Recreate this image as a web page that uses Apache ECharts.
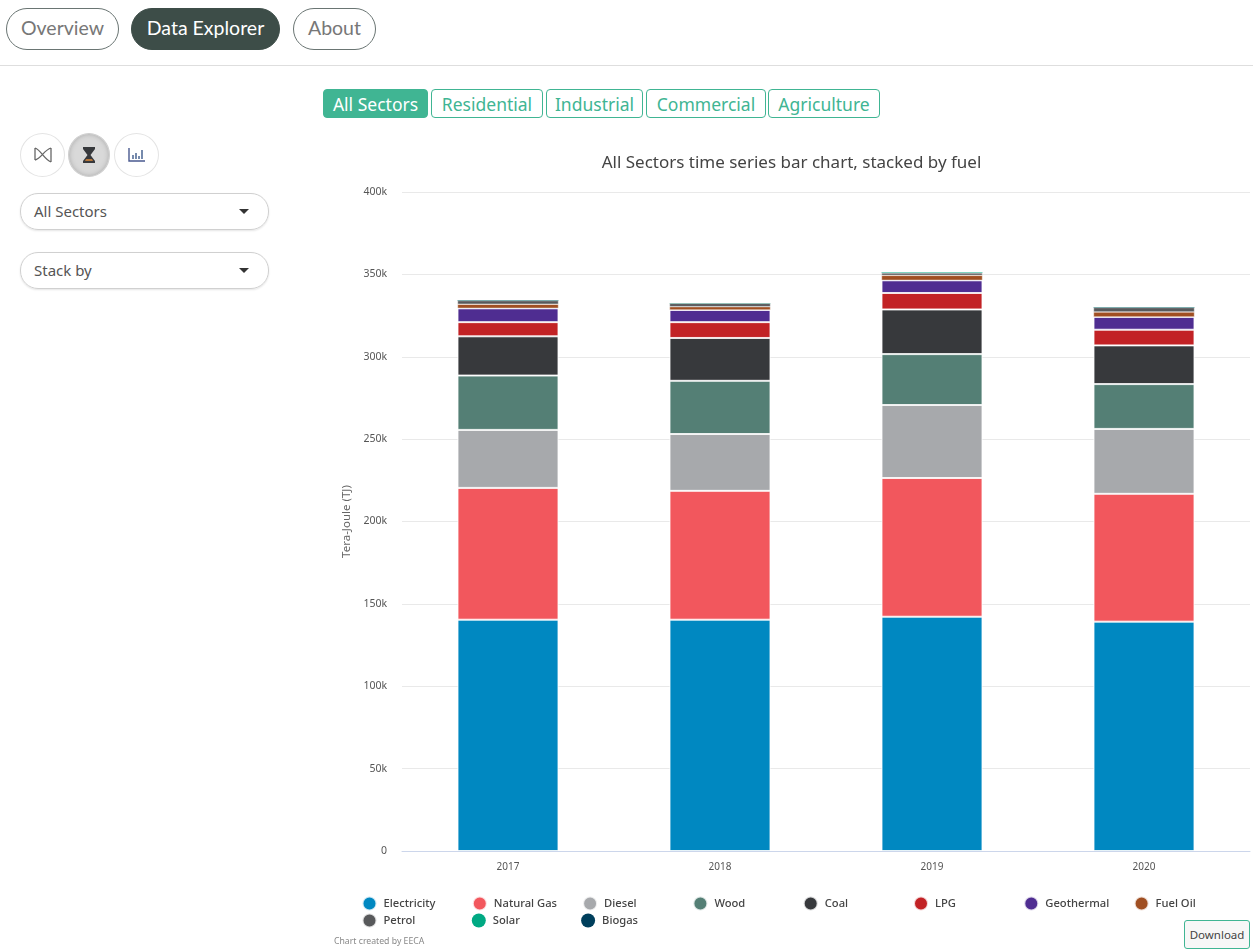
<!DOCTYPE html>
<html><head><meta charset="utf-8">
<script src="https://cdn.jsdelivr.net/npm/echarts@6/dist/echarts.min.js"></script>
<style>
html,body{margin:0;padding:0;background:#fff;width:1253px;height:950px;overflow:hidden;font-family:"Noto Sans",sans-serif;color:#555}
.abs{position:absolute;box-sizing:border-box}
.nav{top:8px;height:42px;border:1.5px solid #6a7573;border-radius:21px;font:19.5px/37px Lato,"Open Sans",sans-serif;text-align:center;color:#777;background:#fff}
.nav.on{background:#3d4d48;color:#fff;border-color:#3d4d48}
.tab{top:89px;height:29px;border:1px solid #40b593;border-radius:4px;font:17.5px/28px "Noto Sans",sans-serif;text-align:center;color:#40b593;background:#fff}
.tab.on{background:#40b593;color:#fff}
.ic{top:133px;width:45px;height:44px;border:1px solid #e4e4e4;border-radius:50%;background:#fff;display:flex;align-items:center;justify-content:center}
.ic.on{background:#d9d9d9;border-color:#cfcfcf;box-shadow:inset 0 0 5px #aaa;width:42px;left:68px}
.sel{left:20px;width:249px;height:37px;border:1px solid #d0d0d0;border-radius:18px;font:15px/34px "Noto Sans",sans-serif;padding-left:13px;color:#555;box-shadow:0 1px 2px #e5e5e5}
.sel:after{content:"";position:absolute;right:19px;top:15px;border:5.500px solid transparent;border-top:5.500px solid #333;border-bottom:0}
#chart{left:320px;top:140px;width:933px;height:810px}
</style></head><body>
<div class="abs nav" style="left:6px;width:113px">Overview</div>
<div class="abs nav on" style="left:131px;width:149px">Data Explorer</div>
<div class="abs nav" style="left:293px;width:83px">About</div>
<div class="abs" style="left:0;top:65px;width:1253px;height:1px;background:#dedede"></div>
<div class="abs tab on" style="left:323px;width:105px">All Sectors</div>
<div class="abs tab" style="left:431px;width:112px">Residential</div>
<div class="abs tab" style="left:546px;width:97px">Industrial</div>
<div class="abs tab" style="left:646px;width:120px">Commercial</div>
<div class="abs tab" style="left:768px;width:112px">Agriculture</div>
<div class="abs ic" style="left:20px"><svg width="20" height="18" viewBox="0 0 20 18" fill="none" stroke="#666" stroke-width="1.3"><path d="M2 2v12M18 2v14M2 2c6 2 9 11 16 14M2 14c6-1 9-10 16-12"/></svg></div>
<div class="abs ic on"><svg width="14" height="18" viewBox="0 0 14 18"><path d="M1 1h12v2l-4.500 6 4.500 6v2H1v-2l4.500-6L1 3z" fill="#37393c"/><path d="M4 13h6l1 2H3z" fill="#b5763a"/></svg></div>
<div class="abs ic" style="left:114px"><svg width="18" height="16" viewBox="0 0 18 16" fill="none" stroke-width="1.400"><path d="M1 1v13h16" stroke="#4a5a90"/><path d="M5 12V8M8 12V6M11 12V9M14 12V3" stroke="#3d5a8a"/></svg></div>
<div class="abs sel" style="top:193px">All Sectors</div>
<div class="abs sel" style="top:252px">Stack by</div>
<div class="abs" id="chart"></div>
<div class="abs" style="left:1184px;top:920px;width:66px;height:29px;border:1px solid #40b593;border-radius:3px;font:11.500px/27px 'Noto Sans',sans-serif;text-align:center;color:#444;background:#f7f7f7">Download</div>
<script>
const years = ['2017', '2018', '2019', '2020'];
const fuelNames = ['Electricity', 'Natural Gas', 'Diesel', 'Wood', 'Coal', 'LPG', 'Geothermal', 'Fuel Oil', 'Petrol', 'Solar', 'Biogas'];
const fuelColors = ['#0088c1', '#f2575d', '#a7a9ac', '#547f75', '#37393c', '#c22225', '#4f2d91', '#a04f22', '#58595b', '#00a983', '#003f5c'];
const electricity = [140400, 140400, 142200, 139200];
const naturalGas = [80000, 78200, 84200, 77600];
const diesel = [35200, 34500, 44300, 39400];
const wood = [33000, 32300, 30900, 27200];
const coal = [23800, 26000, 27100, 23500];
const lpg = [8600, 9600, 10000, 9500];
const geothermal = [8400, 7400, 7700, 7800];
const fuelOil = [2500, 2000, 3000, 3000];
const petrol = [2200, 2000, 1500, 2700];
const solar = [200, 200, 200, 200];
const biogas = [100, 100, 100, 100];
const fuelValues = [electricity, naturalGas, diesel, wood, coal, lpg, geothermal, fuelOil, petrol, solar, biogas];
const titleText = 'All Sectors time series bar chart, stacked by fuel';
const yAxisName = 'Tera-Joule (TJ)';
const creditText = 'Chart created by EECA';

const chart = echarts.init(document.getElementById('chart'), null, {renderer:'canvas'});
chart.setOption({
  animation:false,
  color:fuelColors,
  textStyle:{fontFamily:'"Noto Sans",sans-serif'},
  title:{text:titleText,left:466.5,top:10,textAlign:'center',textStyle:{fontSize:17,fontWeight:'normal',color:'#444'}},
  grid:{left:82,right:3,top:52,bottom:99},
  xAxis:{type:'category',data:years,axisTick:{show:false},
    axisLine:{lineStyle:{color:'#ccd6eb'}},
    axisLabel:{fontSize:10,color:'#555',margin:11}},
  yAxis:{type:'value',min:0,max:400000,interval:50000,name:yAxisName,nameLocation:'middle',nameRotate:90,nameGap:48,
    nameTextStyle:{fontSize:11.500,color:'#666'},
    axisLine:{show:false},axisTick:{show:false},
    axisLabel:{fontSize:10.500,color:'#555',margin:15,formatter:v=>v===0?'0':(v/1000)+'k'},
    splitLine:{lineStyle:{color:'#e9e9e9'}}},
  legend:{left:41.500,top:755.500,width:900,padding:0,icon:'circle',itemWidth:14,itemHeight:14,itemGap:1,
    data:fuelNames,
    textStyle:{fontSize:11.200,fontWeight:500,color:'#444',width:87.300,padding:[0,0,0,2],lineHeight:13,overflow:'none'}},
  graphic:[{type:'text',left:14,top:797.500,style:{text:creditText,fontSize:8.700,fill:'#888',fontFamily:'"Noto Sans",sans-serif'}}],
  series:fuelNames.map((name,i)=>({
    name,type:'bar',stack:'total',data:fuelValues[i],barWidth:101,
    itemStyle:{borderColor:'rgba(255,255,255,0.8)',borderWidth:i>8?0:(i>=7?0.5:1)}
  }))
});
</script>
</body></html>
